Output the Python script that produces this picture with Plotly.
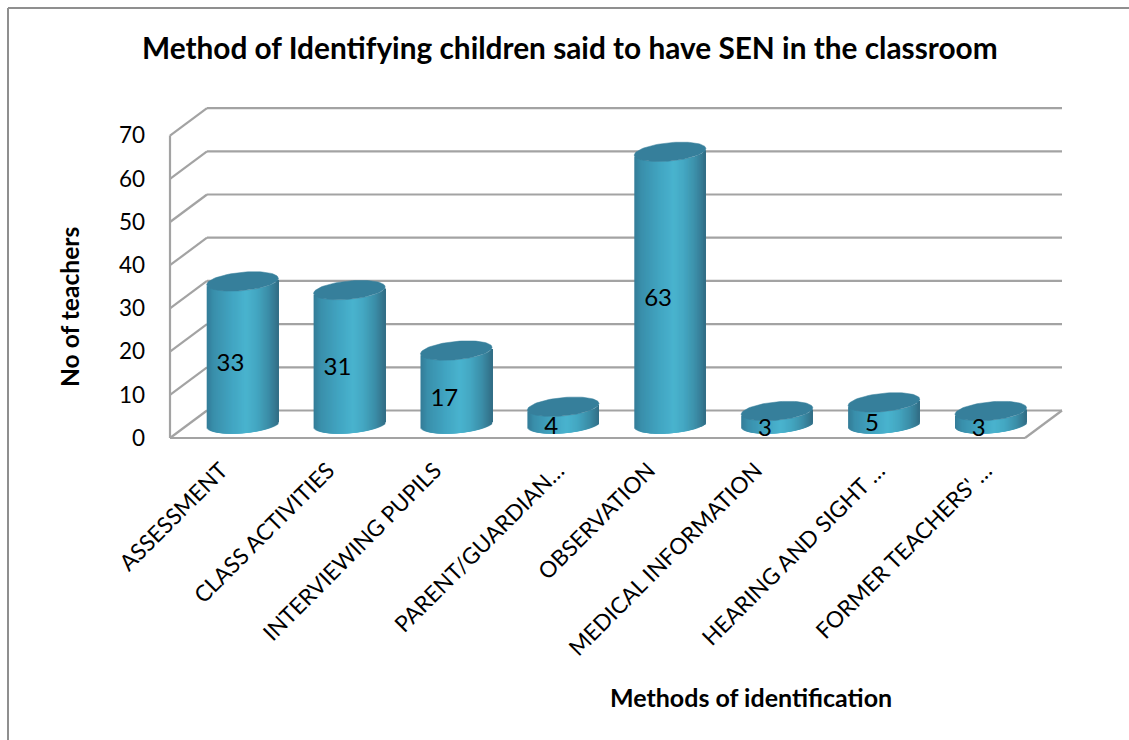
import numpy as np
import plotly.graph_objects as go

categories = ["ASSESSMENT", "CLASS ACTIVITIES", "INTERVIEWING PUPILS", "PARENT/GUARDIAN…",
              "OBSERVATION", "MEDICAL INFORMATION", "HEARING AND SIGHT …", "FORMER TEACHERS' …"]
teachers = [33, 31, 17, 4, 63, 3, 5, 3]
y_ticks = [0, 10, 20, 30, 40, 50, 60, 70]
title_text = "Method of Identifying children said to have SEN in the classroom"
y_title = "No of teachers"
x_title = "Methods of identification"

W, H = 1129, 740
L, R, T, B = 160, 1070, 100, 446     # plot area in page pixels
PX_X = 106.9                         # pixels per category
PX_Y = 4.32                          # pixels per teacher
X0_PX, Y0_PX = 242.5, 438
x_range = [(L - X0_PX) / PX_X, (R - X0_PX) / PX_X]
y_range = [(Y0_PX - B) / PX_Y, (Y0_PX - T) / PX_Y]

FONT = "Lato, Carlito, Calibri, sans-serif"
GRID = "#a3a3a3"
DEPTH_X = 37 / PX_X
DEPTH_Y = 27.5 / PX_Y
WALL_LEFT = (170 - X0_PX) / PX_X
FLOOR_RIGHT = (1025 - X0_PX) / PX_X

HALF_W = 35.8 / PX_X     # cylinder half width
CENTER_LIFT = 14 / PX_Y  # cylinder axis sits this far behind the front floor edge
ELL_B = 9.2 / PX_Y       # ellipse half height
TILT = 3.2 / PX_Y        # right side of the ellipse rises

def rail(u):
    return CENTER_LIFT + TILT * u - ELL_B * np.sqrt(np.clip(1 - u * u, 0, 1))

stops = [(-1.0, (52, 124, 152)), (-0.8, (58, 144, 172)), (-0.3, (66, 165, 194)), (0.1, (74, 180, 207)),
         (0.4, (68, 167, 194)), (0.72, (60, 142, 168)), (1.0, (50, 110, 134))]
def shade(u):
    xs = [s[0] for s in stops]
    return "rgb(%d,%d,%d)" % tuple(np.interp(u, xs, [s[1][k] for s in stops]) for k in range(3))

fig = go.Figure()
xs = np.arange(len(categories))
N = 72
edges = np.linspace(-1, 1, N + 1)
step = edges[1] - edges[0]
for a, b in zip(edges[:-1], edges[1:]):
    u = (a + b) / 2
    low = rail(u)
    right = min(a + 3.2 * step, 1.0)     # painted left to right, each strip overlaps the next ones
    fig.add_bar(x=xs, y=teachers, base=[low] * len(xs),
                offset=a * HALF_W, width=(right - a) * HALF_W,
                marker=dict(color=shade(u), line=dict(width=0)),
                hoverinfo="skip", showlegend=False)

# top caps, sitting on each value
theta = np.linspace(0, 2 * np.pi, 90)
for i, v in enumerate(teachers):
    uu = np.cos(theta)
    fig.add_scatter(x=i + HALF_W * uu,
                    y=v + CENTER_LIFT + TILT * uu + ELL_B * np.sin(theta),
                    mode="lines", fill="toself", fillcolor="#367f9b",
                    line=dict(color="#367f9b", width=0.5), hoverinfo="skip", showlegend=False)

# value labels
fig.add_scatter(x=xs - 12 / PX_X, y=[v / 2 + 0.4 for v in teachers], mode="text",
                text=[str(v) for v in teachers], textposition="middle center",
                textfont=dict(family=FONT, size=24, color="black"),
                hoverinfo="skip", showlegend=False)

# 3-D walls and floor, derived from the axis values
shapes = []
def seg(x0, y0, x1, y1):
    shapes.append(dict(type="line", xref="x", yref="y", x0=x0, y0=y0, x1=x1, y1=y1, layer="below",
                       line=dict(color=GRID, width=2.2)))
for t in y_ticks:
    seg(WALL_LEFT, t, WALL_LEFT + DEPTH_X, t + DEPTH_Y)
    seg(WALL_LEFT + DEPTH_X, t + DEPTH_Y, FLOOR_RIGHT + DEPTH_X, t + DEPTH_Y)
seg(WALL_LEFT, y_ticks[0], WALL_LEFT, y_ticks[-1])
seg(WALL_LEFT, 0, FLOOR_RIGHT, 0)
seg(FLOOR_RIGHT, 0, FLOOR_RIGHT + DEPTH_X, DEPTH_Y)

# outer chart frame (top and left edges only are in view)
pw, ph = R - L, B - T
def px(v): return (v - L) / pw
def py(v): return (B - v) / ph
for x0, y0, x1, y1 in [(8, 8, 1129, 8), (8, 8, 8, 740)]:
    shapes.append(dict(type="line", xref="paper", yref="paper", x0=px(x0), y0=py(y0), x1=px(x1), y1=py(y1),
                       layer="below", line=dict(color="#8f8f8f", width=2)))

annotations = [
    dict(text="<b>%s</b>" % title_text, xref="paper", yref="paper", x=px(570), y=py(48), showarrow=False,
         xanchor="center", yanchor="middle", font=dict(family=FONT, size=29.8, color="black")),
    dict(text="<b>%s</b>" % y_title, xref="paper", yref="paper", x=px(69), y=py(307), showarrow=False, textangle=-90,
         xanchor="center", yanchor="middle", font=dict(family=FONT, size=24.6, color="black")),
    dict(text="<b>%s</b>" % x_title, xref="paper", yref="paper", x=px(751), y=py(697), showarrow=False,
         xanchor="center", yanchor="middle", font=dict(family=FONT, size=25, color="black")),
]

# rotated labels end left of their bar, truncated ones end right under it
tick_positions = [i + (-0.20 if "…" not in c else -0.05) for i, c in enumerate(categories)]

fig.update_layout(
    width=W, height=H, autosize=False, barmode="overlay",
    margin=dict(l=L, r=W - R, t=T, b=H - B, pad=0),
    paper_bgcolor="white", plot_bgcolor="white", showlegend=False,
    shapes=shapes, annotations=annotations,
    xaxis=dict(range=x_range, tickmode="array", tickvals=tick_positions, ticktext=categories,
               tickangle=-45, showgrid=False, zeroline=False, showline=False, ticks="",
               tickfont=dict(family=FONT, size=22.5, color="black"), ticklabelstandoff=6),
    yaxis=dict(range=y_range, tickmode="array", tickvals=y_ticks, showgrid=False, zeroline=False,
               showline=False, ticks="", tickfont=dict(family=FONT, size=22.5, color="black"),
               ticklabelstandoff=14),
)

fig.write_html("out.html", config={"displayModeBar": False},
               post_script="document.body.style.margin='0';document.body.style.overflow='hidden';")
